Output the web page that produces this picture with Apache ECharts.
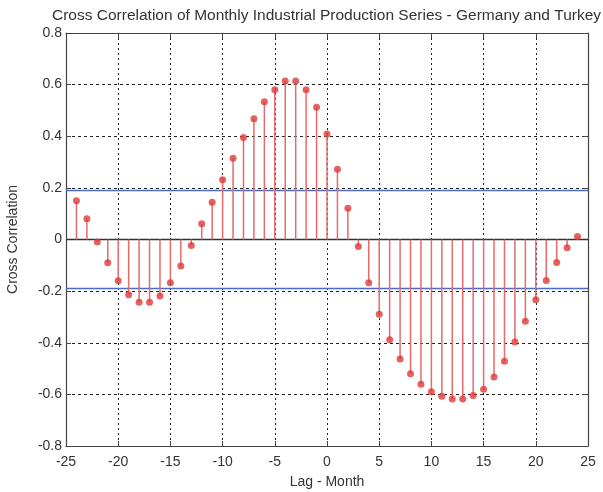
<!DOCTYPE html>
<html><head><meta charset="utf-8">
<script src="https://cdn.jsdelivr.net/npm/echarts@6/dist/echarts.min.js"></script>
<style>html,body{margin:0;padding:0;background:#fff}#c{width:603px;height:492px}</style>
</head><body><div id="c"></div>
<script>
const lags = [-24,-23,-22,-21,-20,-19,-18,-17,-16,-15,-14,-13,-12,-11,-10,-9,-8,-7,-6,-5,-4,-3,-2,-1,0,1,2,3,4,5,6,7,8,9,10,11,12,13,14,15,16,17,18,19,20,21,22,23,24];
const xcorr = [0.15,0.08,-0.01,-0.09,-0.16,-0.214,-0.243,-0.243,-0.219,-0.168,-0.103,-0.023,0.061,0.144,0.231,0.315,0.395,0.468,0.534,0.580,0.614,0.614,0.580,0.512,0.409,0.272,0.121,-0.027,-0.168,-0.290,-0.388,-0.463,-0.520,-0.561,-0.590,-0.607,-0.618,-0.618,-0.604,-0.580,-0.533,-0.472,-0.397,-0.317,-0.233,-0.159,-0.089,-0.032,0.012];
const bound = 0.19;
const titleText = 'Cross Correlation of Monthly Industrial Production Series - Germany and Turkey';
const xName = 'Lag - Month';
const yName = 'Cross Correlation';

const pts = lags.map((l,i)=>[l,xcorr[i]]);
const font = 'Liberation Sans, Arial, sans-serif';
const chart = echarts.init(document.getElementById('c'));
const axisCommon = {
  axisLine:{onZero:false,lineStyle:{color:'#444',width:1.2}},
  axisTick:{inside:true,length:5,lineStyle:{color:'#444'}},
};
chart.setOption({
  animation:false,
  title:{text:titleText,left:47,top:3,textStyle:{fontFamily:font,fontSize:15.5,fontWeight:'normal',color:'#333'}},
  grid:{left:66,right:15,top:33,bottom:46,containLabel:false,outerBoundsMode:'none'},
  xAxis:[{
    type:'value',min:-25,max:25,interval:5,position:'bottom',
    ...axisCommon,
    axisLabel:{color:'#333',fontFamily:font,fontSize:14,margin:9},
    splitLine:{show:true,lineStyle:{color:'#222',type:[2,3],width:1}},
    name:xName,nameLocation:'middle',nameGap:29,nameTextStyle:{color:'#333',fontFamily:font,fontSize:14}
  },{
    type:'value',min:-25,max:25,interval:5,position:'top',
    ...axisCommon,axisLabel:{show:false},splitLine:{show:false}
  }],
  yAxis:[{
    type:'value',min:-0.8,max:0.8,interval:0.2,
    ...axisCommon,
    axisLabel:{color:'#333',fontFamily:font,fontSize:14,margin:4,formatter:v=>{const r=Math.round(v*10)/10;return r===0?'0':String(r);}},
    splitLine:{show:true,lineStyle:{color:'#222',type:[3,3],width:1}},
    name:yName,nameLocation:'middle',nameGap:46,nameTextStyle:{color:'#333',fontFamily:font,fontSize:14}
  },{
    type:'value',min:-0.8,max:0.8,interval:0.2,position:'right',
    ...axisCommon,axisLabel:{show:false},splitLine:{show:false}
  }],
  series:[
    {type:'line',data:[[-25,0],[25,0]],symbol:'none',lineStyle:{color:'#333',width:1.5},z:1,silent:true},
    {type:'line',data:[[-25,bound],[25,bound]],symbol:'none',lineStyle:{color:'#4a6cc4',width:1.5},z:2,silent:true},
    {type:'line',data:[[-25,-bound],[25,-bound]],symbol:'none',lineStyle:{color:'#4a6cc4',width:1.5},z:2,silent:true},
    {type:'custom',data:pts,z:3,renderItem:(params,api)=>{
      const p0=api.coord([api.value(0),0]);const p1=api.coord([api.value(0),api.value(1)]);
      return {type:'line',shape:{x1:p0[0],y1:p0[1],x2:p1[0],y2:p1[1]},style:{stroke:'#e86a6a',lineWidth:1.5}};
    }},
    {type:'scatter',data:pts,symbol:'circle',symbolSize:7,itemStyle:{color:'#e03a3a'},z:4}
  ]
});
</script></body></html>
